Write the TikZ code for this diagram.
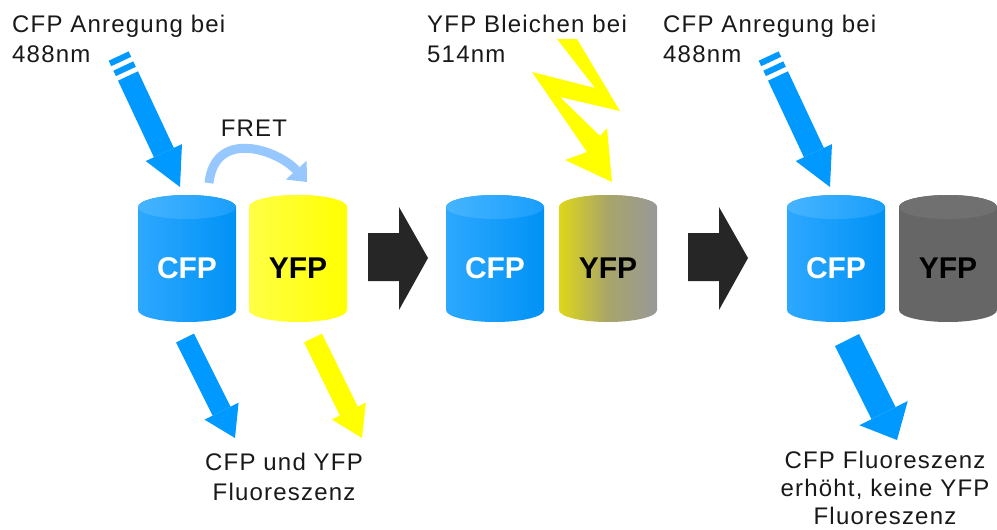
\documentclass[tikz,border=0pt]{standalone}
\usepackage{fontspec}
\setmainfont[LetterSpace=5]{Liberation Sans}
\newfontfamily\lblfont{Liberation Sans}
\usetikzlibrary{arrows.meta,calc}
\definecolor{txt}{RGB}{25,25,25}
\definecolor{cfpblue}{RGB}{0,153,255}
\definecolor{cfpL}{RGB}{45,168,255}
\definecolor{cfpR}{RGB}{0,146,245}
\definecolor{cfpTL}{RGB}{70,180,255}
\definecolor{cfpTR}{RGB}{25,158,252}
\definecolor{fretblue}{RGB}{150,200,255}
\definecolor{yfpY}{RGB}{255,255,0}
\definecolor{yfpYL}{RGB}{255,255,70}
\definecolor{midL}{RGB}{222,215,25}
\definecolor{midM}{RGB}{168,165,105}
\definecolor{midR}{RGB}{152,152,152}
\definecolor{darkgray}{RGB}{102,102,102}
\definecolor{darkgrayT}{RGB}{112,112,112}
\definecolor{blockblack}{RGB}{38,38,38}
\newcommand\mycyl[6]{%
  \path[#3] (#2,207) -- (#2,310) arc[start angle=180,end angle=0,x radius=49,y radius=12]
     -- (#2+98,207) arc[start angle=0,end angle=-180,x radius=49,y radius=12] -- cycle;
  \path[#4] (#2+49,207) ellipse[x radius=49,y radius=12];
  \node[cyltext,text=#6] (#1) at (#2+49,268) {#5};
}
\begin{document}
\begin{tikzpicture}[x=1pt,y=-1pt,
  lbl/.style={inner sep=0pt,font=\fontsize{24}{30}\selectfont,text=txt},
  cyltext/.style={inner sep=0pt,font=\lblfont\bfseries\fontsize{30}{30}\selectfont},
  excite/.style={draw=cfpblue,line width=22pt,-{Triangle[width=40pt,length=38pt,line width=0pt]}},
  stripe/.style={draw=cfpblue,line width=22pt},
  emit/.style={line width=20pt,-{Triangle[width=38pt,length=30pt,line width=0pt]}},
  blockarrow/.style={fill=blockblack},
  cfpbody/.style={left color=cfpL,right color=cfpR},
  cfptop/.style={left color=cfpTL,right color=cfpTR},
]
\useasboundingbox (0,0) rectangle (997,530);
\fill[white] (0,0) rectangle (997,530);

% texts
\node[lbl,anchor=north west,align=left] (t1) at (12,15) {CFP Anregung bei\\488nm};
\node[lbl,anchor=north west,align=left] (t2) at (427,15) {YFP Bleichen bei\\514nm};
\node[lbl,anchor=north west,align=left] (t3) at (663,15) {CFP Anregung bei\\488nm};
\node[lbl] (fret) at (254,128.5) {FRET};
\node[lbl,anchor=north,align=center] (b1) at (284,453) {CFP und YFP\\Fluoreszenz};
\node[lbl,anchor=north,align=center,font=\fontsize{24}{28}\selectfont] (b2) at (885,451) {CFP Fluoreszenz\\erhöht, keine YFP\\Fluoreszenz};

% cylinders
\mycyl{cfp1}{138}{cfpbody}{cfptop}{CFP}{white}
\mycyl{yfp1}{249}{left color=yfpYL,right color=yfpY}{left color=yfpYL,right color=yfpY}{YFP}{black}
\mycyl{cfp2}{446}{cfpbody}{cfptop}{CFP}{white}
\mycyl{yfp2}{559}{left color=midL,right color=midR,middle color=midM}{left color=midL,right color=midR,middle color=midM}{YFP}{black}
\mycyl{cfp3}{787}{cfpbody}{cfptop}{CFP}{white}
\mycyl{yfp3}{899}{fill=darkgray}{fill=darkgrayT}{YFP}{black}

% excitation arrows
\coordinate (a1s) at (128,76);
\coordinate (a1e) at (180,187);
\draw[excite] (a1s) -- (a1e);
\draw[stripe] ($(a1e)!127.6pt!(a1s)$) -- ($(a1e)!133.6pt!(a1s)$);
\draw[stripe] ($(a1e)!138.6pt!(a1s)$) -- ($(a1e)!144.6pt!(a1s)$);

\coordinate (a3s) at (778,76);
\coordinate (a3e) at (830,187);
\draw[excite] (a3s) -- (a3e);
\draw[stripe] ($(a3e)!127.6pt!(a3s)$) -- ($(a3e)!133.6pt!(a3s)$);
\draw[stripe] ($(a3e)!138.6pt!(a3s)$) -- ($(a3e)!144.6pt!(a3s)$);

% FRET arc
\coordinate (f1) at (209,183);
\coordinate (f2) at (307,182);
\draw[draw=fretblue,line width=9pt,-{Triangle[width=28pt,length=16pt,line width=0pt]}]
  (f1) .. controls (215,128) and (278,150) .. (f2);

% lightning
\fill[yfpY] (557,39) -- (577,39) -- (620,111) -- (560,97) -- (600,136) -- (607,128)
  -- (612,182) -- (565,160) -- (587,152) -- (532,72) -- (595,88) -- cycle;

% block arrows
\fill[blockblack] (368,233) -- (399,233) -- (399,207) -- (428,258) -- (399,310) -- (399,281) -- (368,281) -- cycle;
\fill[blockblack] (688,233) -- (719,233) -- (719,207) -- (748,258) -- (719,310) -- (719,281) -- (688,281) -- cycle;

% emission arrows
\coordinate (e1s) at (185,338);
\coordinate (e1e) at (235,438);
\draw[emit,draw=cfpblue] (e1s) -- (e1e);
\coordinate (e2s) at (313,338);
\coordinate (e2e) at (362,438);
\draw[emit,draw=yfpY] (e2s) -- (e2e);
\coordinate (e3s) at (847,340);
\coordinate (e3e) at (897,440);
\draw[draw=cfpblue,line width=27pt,-{Triangle[width=54pt,length=30pt,line width=0pt]}] (e3s) -- (e3e);
\end{tikzpicture}
\end{document}
